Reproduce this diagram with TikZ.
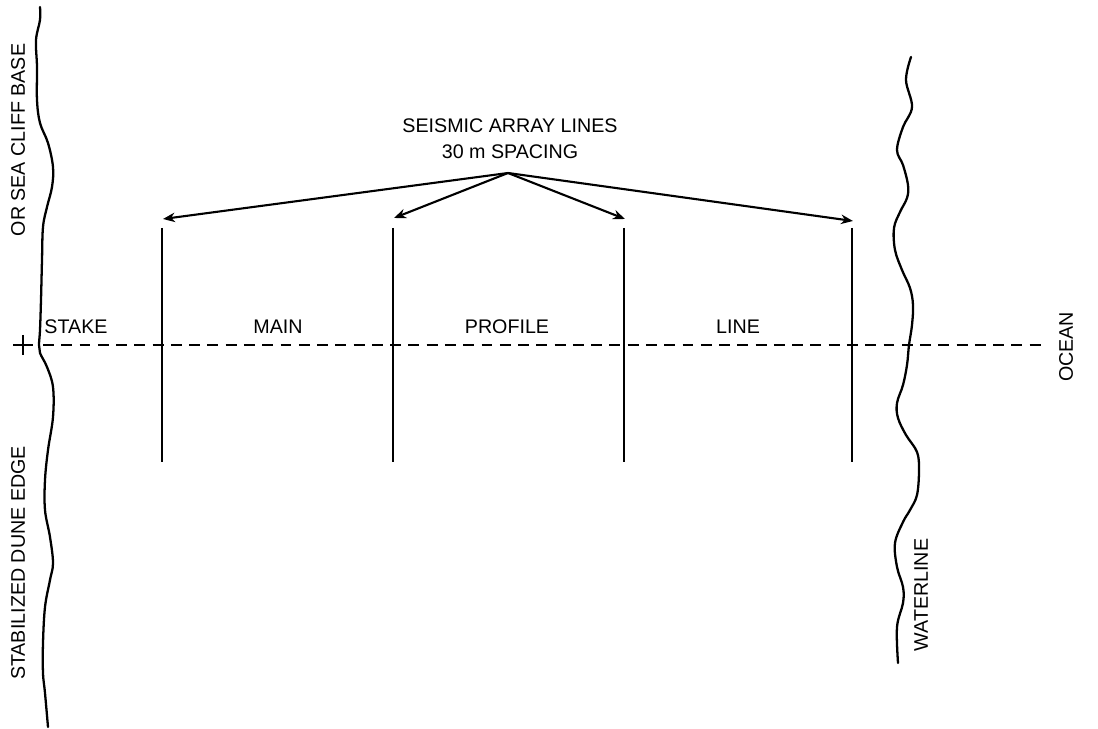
\documentclass[tikz,border=0pt]{standalone}
\usepackage{fontspec}
\setmainfont{Liberation Sans}
\usetikzlibrary{arrows.meta}

\begin{document}
\begin{tikzpicture}[
      x=0.02cm, y=-0.02cm,
      every node/.style={font=\fontsize{11.2}{15}\selectfont, inner sep=0pt},
      shore/.style={line width=1.3pt, line join=round, line cap=round},
      arrayline/.style={line width=1.1pt},
      profile/.style={line width=1.7pt, dash pattern=on 6.2pt off 4.2pt},
      arrow/.style={-{Stealth[length=2.4mm,width=1.9mm]}, line width=1.2pt},
      vlabel/.style={rotate=90}
    ]
    \useasboundingbox (0,0) rectangle (1098,729);

    % dune edge / cliff base
    \draw[shore] plot[smooth, tension=0.6] coordinates {
      (40,7) (40,20) (36,40) (37,67) (37,100) (40,123) (48,143) (53,167)
      (52,187) (47,207) (43,227) (42,260) (41,300) (40,330) (39,345)
      (40,353) (47,367) (53,387) (53,417) (48,450) (45,480) (45,510)
      (50,537) (53,563) (50,580) (45,607) (43,643) (43,673) (45,693) (48,727)};

    % waterline
    \draw[shore] plot[smooth, tension=0.6] coordinates {
      (911,57) (906,80) (912,107) (903,127) (897,150) (903,165) (908,185)
      (907,198) (900,212) (894,228) (895,250) (902,270) (910,288) (913,305)
      (912,325) (909,345) (907,365) (903,385) (897,403) (898,418) (906,435)
      (917,452) (919,470) (917,495) (910,510) (903,522) (895,543) (897,567)
      (903,587) (903,603) (897,627) (898,663)};

    % stake and main profile line
    \coordinate (stake) at (23,345);
    \coordinate (seaend) at (1042,345);
    \draw[line width=1.3pt] (13,345) -- (33,345) (23,335) -- (23,355);
    \draw[profile] (stake) ++(20,0) -- (seaend);

    % seismic array lines
    \foreach \n/\x/\t in {1/162/219, 2/393/218, 3/624/219, 4/852/221}{
      \coordinate (top\n) at (\x,228);
      \coordinate (bot\n) at (\x,462);
      \coordinate (tip\n) at (\x+1,\t);
      \draw[arrayline] (top\n) -- (bot\n);
    }

    \node[align=center] (title) at (510,139) {SEISMIC ARRAY LINES\\30 m SPACING};
    \coordinate (apex) at (508,173);
    \foreach \n in {1,...,4}
      \draw[arrow] (apex) -- (tip\n);

    \node (stakelbl) at (76,327) {STAKE};
    \node (mainlbl) at (278,327) {MAIN};
    \node (proflbl) at (507,327) {PROFILE};
    \node (linelbl) at (738,327) {LINE};

    \node[vlabel] (cliff) at (18,140) {OR SEA CLIFF BASE};
    \node[vlabel] (dune) at (18,563) {STABILIZED DUNE EDGE};
    \node[vlabel] (water) at (921,595) {WATERLINE};
    \node[vlabel] (ocean) at (1066,347) {OCEAN};
  \end{tikzpicture}
\end{document}
